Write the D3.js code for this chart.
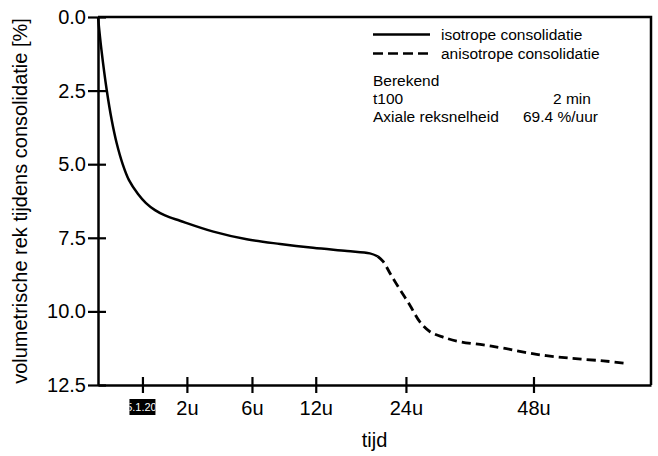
<!DOCTYPE html>
<html>
<head>
<meta charset="utf-8">
<script src="https://cdn.jsdelivr.net/npm/d3@7"></script>
<style>
  html, body { margin: 0; padding: 0; background: #fff; }
  svg { display: block; font-family: "Liberation Sans", Arial, sans-serif; }
</style>
</head>
<body>
<svg id="chart" width="658" height="456"></svg>
<script>
// ---- data ----
const isoTime   = [0, 0.003, 0.0192, 0.0475, 0.0885, 0.152, 0.243, 0.405, 0.583, 0.823, 1.136, 1.70, 3.37, 5.6, 8.4, 11.7, 15.7, 18.7, 19.8];
const isoStrain = [0, 1.12, 2.48, 3.50, 4.29, 4.98, 5.54, 6.01, 6.32, 6.56, 6.74, 6.92, 7.29, 7.55, 7.71, 7.84, 7.95, 8.03, 8.13];
const anisoTime   = [19.8, 20.6, 21.6, 23.1, 24.6, 26.2, 27.9, 30.2, 33.2, 37.6, 41.6, 48.7, 56.4, 64.6, 70.3];
const anisoStrain = [8.13, 8.31, 8.71, 9.27, 9.78, 10.35, 10.69, 10.88, 11.03, 11.14, 11.25, 11.46, 11.59, 11.68, 11.76];
const xTickValues = [0.5, 2, 6, 12, 24, 48];
const xTickLabels = ["5.1.20", "2u", "6u", "12u", "24u", "48u"];
const yTickValues = [0, 2.5, 5, 7.5, 10, 12.5];
const legendLabels = ["isotrope consolidatie", "anisotrope consolidatie"];
const infoTitle = "Berekend";
const infoRows = [["t100", "2 min"], ["Axiale reksnelheid", "69.4 %/uur"]];
const xTitle = "tijd";
const yTitle = "volumetrische rek tijdens consolidatie [%]";

// ---- layout ----
const L = 98, R = 651, T = 17, B = 385;
const svg = d3.select("#chart");
const x = d3.scalePow().exponent(0.5).domain([0, 77.4]).range([L, R]);
const y = d3.scaleLinear().domain([0, 12.5]).range([T, B]);
const font = '"Liberation Sans", Arial, sans-serif';

// frame (top and right)
svg.append("path")
  .attr("d", `M${L},${T}H${R}V${B}`)
  .attr("fill", "none").attr("stroke", "#000").attr("stroke-width", 2.5);

// y axis
const yAxis = svg.append("g").attr("transform", `translate(${L},0)`)
  .call(d3.axisLeft(y).tickValues(yTickValues).tickFormat(d3.format(".1f")).tickSizeOuter(0).tickSizeInner(10).tickPadding(2));
yAxis.select(".domain").attr("stroke-width", 2.5);
yAxis.selectAll(".tick line").attr("stroke-width", 2.2).attr("x2", 8).attr("x1", -10);
yAxis.selectAll(".tick text").attr("font-size", 20).attr("font-family", font).attr("fill", "#000");

// x axis
const xAxis = svg.append("g").attr("transform", `translate(0,${B})`)
  .call(d3.axisBottom(x).tickValues(xTickValues).tickFormat((d, i) => xTickLabels[i]).tickSizeOuter(0).tickSizeInner(8).tickPadding(8));
xAxis.select(".domain").attr("stroke-width", 2.5);
xAxis.selectAll(".tick line").attr("stroke-width", 2.2).attr("y1", -8).attr("y2", 8);
xAxis.selectAll(".tick text").attr("font-size", 20).attr("font-family", font).attr("fill", "#000");

// redacted first tick label: black box with white small text
const firstTick = xAxis.selectAll(".tick").filter((d, i) => i === 0);
firstTick.select("text").remove();
svg.append("clipPath").attr("id", "boxclip").append("rect")
  .attr("x", x(xTickValues[0]) - 13).attr("y", 399).attr("width", 26).attr("height", 16);
svg.append("rect")
  .attr("x", x(xTickValues[0]) - 13).attr("y", 399).attr("width", 26).attr("height", 16).attr("fill", "#000");
svg.append("text")
  .attr("clip-path", "url(#boxclip)")
  .attr("x", x(xTickValues[0]) - 1).attr("y", 411)
  .attr("text-anchor", "middle").attr("font-size", 11).attr("font-family", font)
  .attr("fill", "#fff").text(xTickLabels[0]);

// axis titles
svg.append("text").attr("x", (L + R) / 2).attr("y", 447)
  .attr("text-anchor", "middle").attr("font-size", 20).attr("font-family", font).text(xTitle);
svg.append("text").attr("transform", `translate(27,${(T + B) / 2}) rotate(-90)`)
  .attr("text-anchor", "middle").attr("font-size", 20).attr("font-family", font).text(yTitle);

// curves
const line = d3.line().x(d => x(d[0])).y(d => y(d[1])).curve(d3.curveCatmullRom.alpha(0.5));
const iso = isoTime.map((t, i) => [t, isoStrain[i]]);
const aniso = anisoTime.map((t, i) => [t, anisoStrain[i]]);
svg.append("path").datum(iso).attr("d", line)
  .attr("fill", "none").attr("stroke", "#000").attr("stroke-width", 2.5);
svg.append("path").datum(aniso).attr("d", line)
  .attr("fill", "none").attr("stroke", "#000").attr("stroke-width", 2.8).attr("stroke-dasharray", "9,5");

// legend
const lg = svg.append("g").attr("font-family", font).attr("font-size", 15.5);
[0, 1].forEach(i => {
  const yy = 34.5 + i * 19;
  lg.append("line").attr("x1", 373).attr("x2", 430).attr("y1", yy).attr("y2", yy)
    .attr("stroke", "#000").attr("stroke-width", 2.5)
    .attr("stroke-dasharray", i === 1 ? "10,5" : null);
  lg.append("text").attr("x", 441).attr("y", yy + 5.5).text(legendLabels[i]);
});
lg.append("text").attr("x", 373).attr("y", 86).text(infoTitle);
const valX = [553, 523];
infoRows.forEach((r, i) => {
  lg.append("text").attr("x", 373).attr("y", 104 + i * 18).text(r[0]);
  lg.append("text").attr("x", valX[i]).attr("y", 104 + i * 18).text(r[1]);
});
</script>
</body>
</html>
